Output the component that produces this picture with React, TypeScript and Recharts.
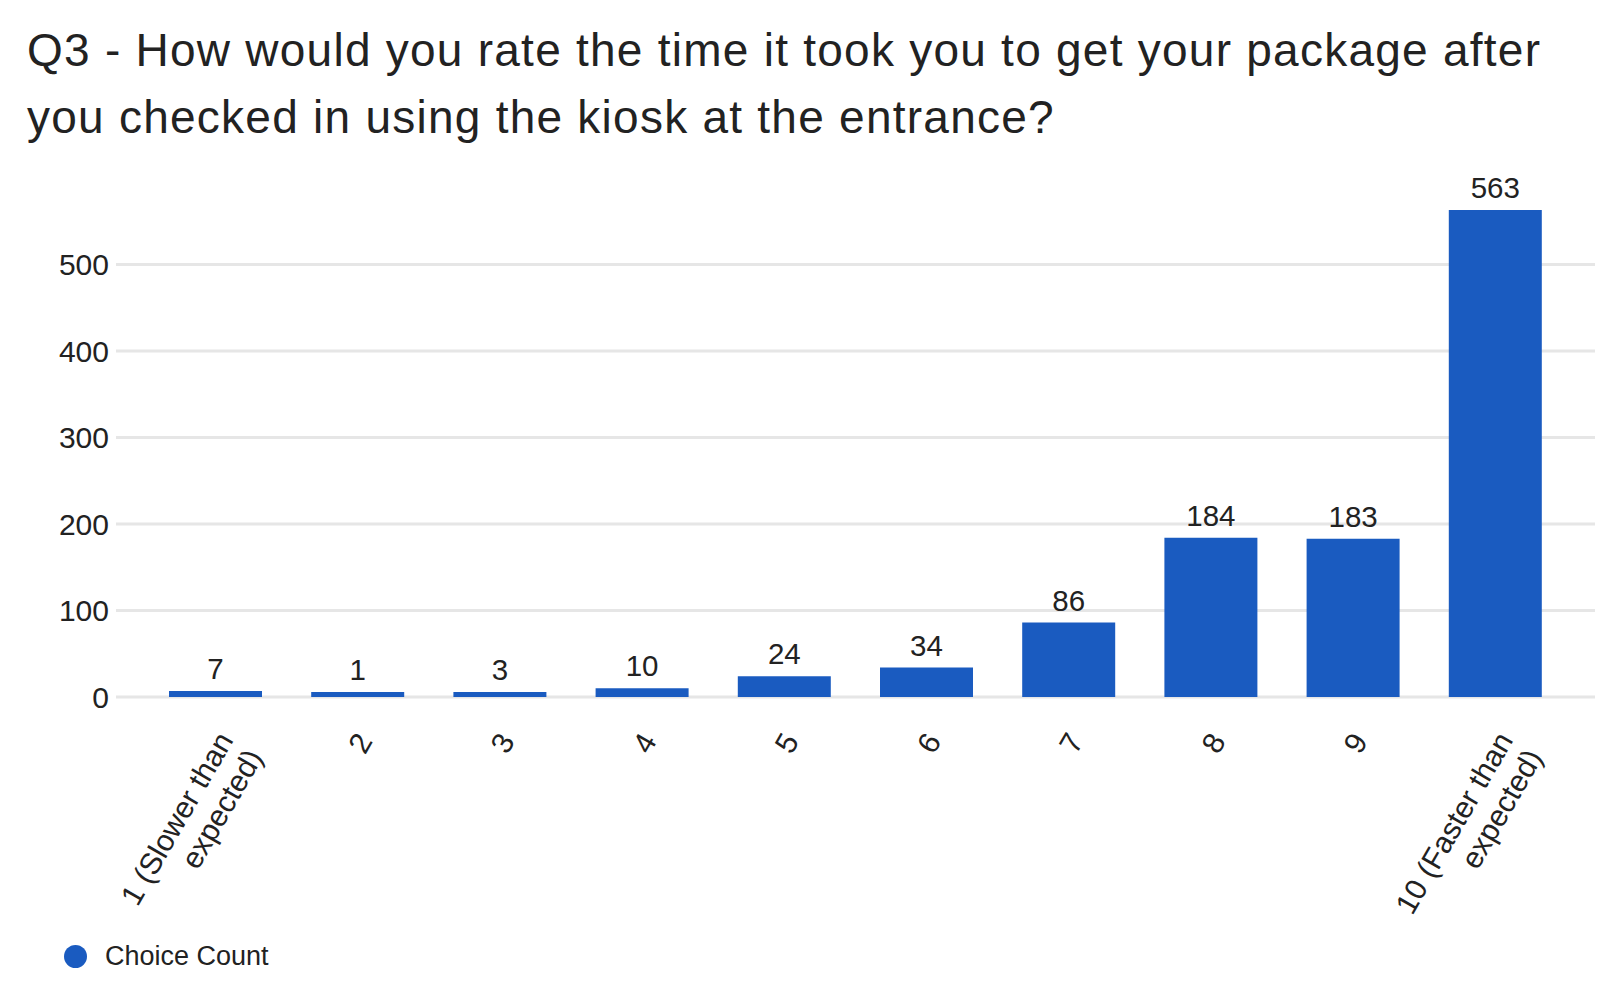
import React from "react";
import { BarChart, Bar, XAxis, YAxis, CartesianGrid, LabelList } from "recharts";

const categories = [
  "1 (Slower than expected)",
  "2",
  "3",
  "4",
  "5",
  "6",
  "7",
  "8",
  "9",
  "10 (Faster than expected)",
];
const choiceCount = [7, 1, 3, 10, 24, 34, 86, 184, 183, 563];
const yTicks = [0, 100, 200, 300, 400, 500];
const seriesName = "Choice Count";
const titleLines = [
  "Q3 - How would you rate the time it took you to get your package after",
  "you checked in using the kiosk at the entrance?",
];

const data = categories.map((c, i) => ({ category: c, value: choiceCount[i] }));

const FONT = '"Liberation Sans", Arial, sans-serif';
const BLUE = "#1a5bc0";
const TEXT = "#222222";
const ANGLE = -60;

function splitLabel(s: string): string[] {
  if (s.length <= 10) return [s];
  const words = s.split(" ");
  return [words.slice(0, -1).join(" "), words[words.length - 1]];
}

const XTick = (props: any) => {
  const { x, y, payload } = props;
  const lines = splitLabel(String(payload.value));
  const multi = lines.length > 1;
  const ax = x + (multi ? 19 : 16);
  const ay = y + (multi ? 43 : 44);
  return (
    <text
      x={ax}
      y={ay}
      textAnchor="end"
      transform={`rotate(${ANGLE}, ${ax}, ${ay})`}
      fontFamily={FONT}
      fontSize={30}
      fill={TEXT}
    >
      {lines.map((l, i) => (
        <tspan key={i} x={ax} dy={i === 0 ? 0 : 34}>
          {l}
        </tspan>
      ))}
    </text>
  );
};

export default function App() {
  return (
    <div style={{ position: "absolute", left: 0, top: 0, width: 1610, height: 1008, background: "#fff", fontFamily: FONT }}>
      <div
        style={{
          position: "absolute",
          left: 27,
          top: 17,
          fontSize: 46,
          letterSpacing: "1.25px",
          lineHeight: "66.5px",
          color: TEXT,
          whiteSpace: "nowrap",
        }}
      >
        {titleLines.map((t, i) => (
          <div key={i}>{t}</div>
        ))}
      </div>
      <div style={{ position: "absolute", left: 0, top: 0 }}>
        <BarChart
          width={1610}
          height={1008}
          data={data}
          margin={{ top: 178, right: 15, bottom: 211, left: 0 }}
        >
          <CartesianGrid vertical={false} stroke="#e6e6e6" strokeWidth={3} horizontalValues={yTicks} />
          <XAxis
            dataKey="category"
            interval={0}
            axisLine={false}
            tickLine={false}
            tickSize={0}
            tickMargin={0}
            height={100}
            padding={{ left: 28, right: 29 }}
            tick={<XTick />}
          />
          <YAxis
            width={116}
            domain={[0, 600]}
            ticks={yTicks}
            axisLine={false}
            tickLine={false}
            tickSize={0}
            tickMargin={7}
            tick={{ fontFamily: FONT, fontSize: 30, fill: TEXT }}
          />
          <Bar dataKey="value" name={seriesName} fill={BLUE} barSize={93} minPointSize={5} isAnimationActive={false}>
            <LabelList
              dataKey="value"
              position="top"
              offset={12}
              style={{ fontFamily: FONT, fontSize: 29.5, fill: TEXT }}
            />
          </Bar>
        </BarChart>
      </div>
      <div style={{ position: "absolute", left: 64, top: 943, display: "flex", alignItems: "center" }}>
        <span style={{ width: 23, height: 23, borderRadius: "50%", background: BLUE, display: "inline-block" }} />
        <span style={{ marginLeft: 18, fontSize: 27, color: TEXT, lineHeight: "26px" }}>{seriesName}</span>
      </div>
    </div>
  );
}
